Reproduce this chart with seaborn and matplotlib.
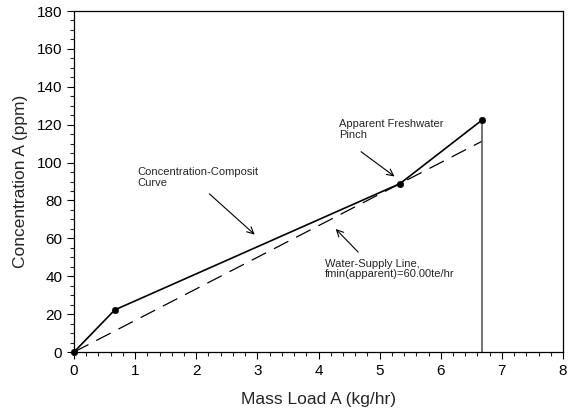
import matplotlib
matplotlib.use("Agg")
import matplotlib.pyplot as plt
import seaborn as sns
import pandas as pd
from matplotlib.ticker import MultipleLocator

sns.set_style("ticks")
plt.rcParams['font.family'] = ['Liberation Sans', 'DejaVu Sans']

# Data
composite_x = [0.0, 0.6667, 5.3333, 6.6667]
composite_y = [0.0, 22.22, 88.89, 122.22]
supply_x = [0.0, 6.6667]
supply_y = [0.0, 111.11]
vline_x = [6.6667, 6.6667]
vline_y = [0.0, 122.22]

fig = plt.figure(figsize=(5.68, 4.12), dpi=100)
ax = fig.add_axes([0.1303, 0.1456, 0.8609, 0.8277])

comp = pd.DataFrame({"x": composite_x, "y": composite_y})
sup = pd.DataFrame({"x": supply_x, "y": supply_y})
vl = pd.DataFrame({"x": vline_x, "y": vline_y})

sns.lineplot(data=vl, x="x", y="y", ax=ax, color="#4d4d4d", lw=1.1, sort=False,
             estimator=None, errorbar=None)
sns.lineplot(data=sup, x="x", y="y", ax=ax, color="black", lw=0.9,
             linestyle=(0, (13, 7)), estimator=None, errorbar=None)
sns.lineplot(data=comp, x="x", y="y", ax=ax, color="black", lw=1.2,
             estimator=None, errorbar=None)
sns.scatterplot(data=comp, x="x", y="y", ax=ax, color="black", s=22, zorder=5,
                edgecolor="black", clip_on=False)

ax.set_xlim(0, 8)
ax.set_ylim(0, 180)
ax.xaxis.set_major_locator(MultipleLocator(1))
ax.xaxis.set_minor_locator(MultipleLocator(0.2))
ax.yaxis.set_major_locator(MultipleLocator(20))
ax.yaxis.set_minor_locator(MultipleLocator(5))
ax.tick_params(which="major", length=5, width=0.8, labelsize=11, direction="out", colors="black")
ax.tick_params(which="minor", length=3, width=0.8, direction="out")
for s in ax.spines.values():
    s.set_linewidth(0.9)
    s.set_color("black")
    s.set_visible(True)

ax.set_xlabel("Mass Load A (kg/hr)", fontsize=12.5, labelpad=10)
ax.set_ylabel("Concentration A (ppm)", fontsize=12.5, labelpad=6)

arrowprops = dict(arrowstyle="->", color="black", lw=0.8, mutation_scale=12)
ax.annotate("", xy=(2.99, 61.0), xytext=(2.18, 84.5), arrowprops=arrowprops)
ax.text(1.03, 97.8, "Concentration-Composit\nCurve", fontsize=8, va="top", ha="left", linespacing=1.1)

ax.annotate("", xy=(5.28, 91.8), xytext=(4.66, 106.6), arrowprops=arrowprops)
ax.text(4.33, 122.8, "Apparent Freshwater\nPinch", fontsize=8, va="top", ha="left", linespacing=1.1)

ax.annotate("", xy=(4.25, 66.0), xytext=(4.68, 51.7), arrowprops=arrowprops)
ax.text(4.1, 49.3, "Water-Supply Line,\nfmin(apparent)=60.00te/hr", fontsize=8, va="top", ha="left", linespacing=1.1)

fig.savefig("out.png", dpi=100)
